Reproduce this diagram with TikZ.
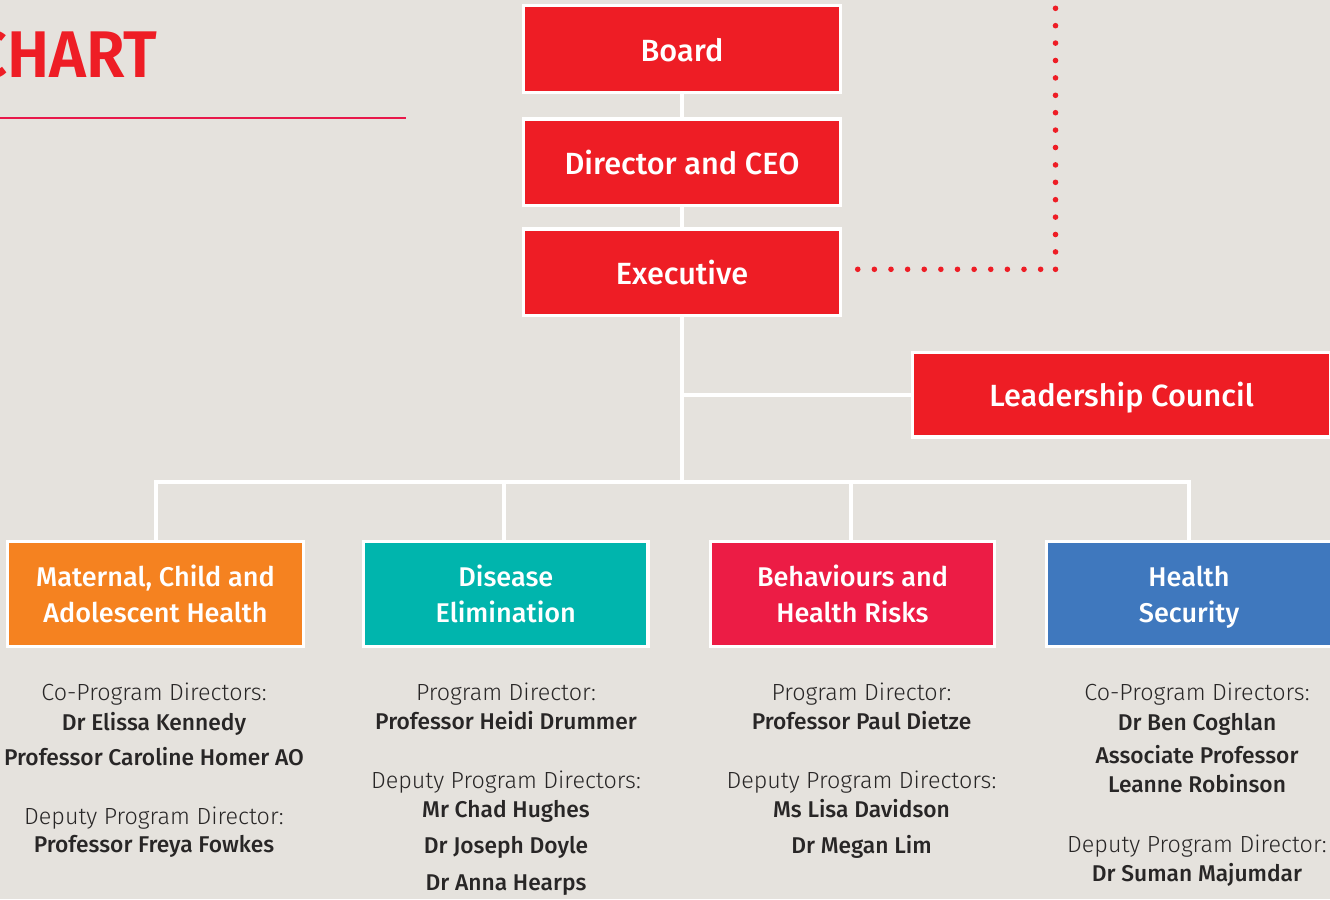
\documentclass[tikz,border=0pt]{standalone}
\usepackage{graphicx}
\usepackage{fontspec}
\setmainfont{Fira Sans}
\newfontfamily\flight{Fira Sans Light}
\newfontfamily\fmed{Fira Sans Medium}
\newfontfamily\fsemi{Fira Sans SemiBold}
\definecolor{bgc}{RGB}{229,226,221}
\definecolor{cred}{RGB}{238,29,37}
\definecolor{corange}{RGB}{245,130,32}
\definecolor{cteal}{RGB}{0,181,173}
\definecolor{cpink}{RGB}{236,28,69}
\definecolor{cblue}{RGB}{63,120,190}
\definecolor{cline}{RGB}{232,24,74}
\definecolor{tdark}{RGB}{40,38,38}
\newcommand\topstrut{\rule{0pt}{20pt}}
\begin{document}
\begin{tikzpicture}[x=0.75pt,y=-0.75pt,
  topbox/.style={draw=white, line width=2.5pt, fill=cred, text=white, minimum width=238.1pt, minimum height=65pt, inner sep=0pt, text height=18pt, text depth=0pt, font=\fmed\fontsize{23}{28}\selectfont},
  progbox/.style={draw=white, line width=2.5pt, text=white, minimum height=79pt, inner sep=0pt, align=center, font=\fmed\fontsize{20.3}{27}\selectfont},
  conn/.style={draw=white, line width=3pt},
  dotsv/.style={draw=cred, line width=4.2pt, line cap=round, dash pattern=on 0pt off 13.05pt},
  dotsh/.style={draw=cred, line width=4.2pt, line cap=round, dash pattern=on 0pt off 12.47pt},
  lab/.style={anchor=base, inner sep=0pt, text=tdark, font=\flight\fontsize{17.5}{20}\selectfont},
  nm/.style={anchor=base, inner sep=0pt, text=tdark, font=\fmed\fontsize{17.1}{20}\selectfont}
]
\useasboundingbox (0,0) rectangle (1330,899);
\clip (0,0) rectangle (1330,899);
\fill[bgc] (0,0) rectangle (1330,899);

% title
\node[anchor=base east, inner sep=0pt, text=cred, font=\fsemi\fontsize{49.5}{50}\selectfont] (title) at (157.5,77.3) {\scalebox{0.955}[1]{CHART}};
\coordinate (rule1) at (0,118);
\coordinate (rule2) at (405.7,118);
\draw[line width=2pt, draw=cline] (rule1) -- (rule2);

% top boxes
\node[topbox] (board) at (682,49) {Board};
\node[topbox] (dir) at (682,162.3) {Director and CEO};
\node[topbox] (exec) at (682,272.3) {Executive};
\node[topbox, minimum width=313.5pt, minimum height=63.5pt] (lc) at (1121.5,394.7) {Leadership Council};

% program boxes
\node[progbox, fill=corange, minimum width=221.7pt] (mch) at (155.5,594) {\topstrut Maternal, Child and\\Adolescent Health\vphantom{y}};
\node[progbox, fill=cteal, minimum width=213.3pt] (de) at (505.8,594) {\topstrut Disease\\Elimination\vphantom{y}};
\node[progbox, fill=cpink, minimum width=213.3pt] (bhr) at (852.5,594) {\topstrut Behaviours and\\Health Risks\vphantom{y}};
\node[progbox, fill=cblue, minimum width=213.3pt] (hs) at (1189,594) {\topstrut Health\\Security};

% connectors
\coordinate (bus) at (682,482.3);
\draw[conn] (board.south) -- (dir.north);
\draw[conn] (dir.south) -- (exec.north);
\draw[conn] (exec.south) -- (bus);
\draw[conn] (exec.south |- lc.west) -- (lc.west);
\draw[conn] (mch.north) |- (bus) -| (hs.north);
\draw[conn] ([xshift=-1.3pt]de.north) -- ([xshift=-1.3pt]de.north |- bus);
\draw[conn] ([xshift=-1.3pt]bhr.north) -- ([xshift=-1.3pt]bhr.north |- bus);

% dotted link
\coordinate (dtop) at (1055.5,8.3);
\coordinate (dcorner) at (1055.5,269.3);
\draw[dotsv] (dtop) -- (dcorner);
\draw[dotsh] ([xshift=11.5pt,yshift=2.25pt]exec.east) -- (dcorner);

% column 1
\node[lab] (a1) at (154,700.7) {Co-Program Directors:};
\node[nm]  (a2) at (154,730) {Dr Elissa Kennedy};
\node[nm]  (a3) at (154,765.7) {Professor Caroline Homer AO};
\node[lab] (a4) at (154,824) {Deputy Program Director:};
\node[nm]  (a5) at (154,852.7) {Professor Freya Fowkes};
% column 2
\node[lab] (b1) at (506,700.7) {Program Director:};
\node[nm]  (b2) at (506,729.3) {Professor Heidi Drummer};
\node[lab] (b3) at (506,788.3) {Deputy Program Directors:};
\node[nm]  (b4) at (506,817.3) {Mr Chad Hughes};
\node[nm]  (b5) at (506,853.3) {Dr Joseph Doyle};
\node[nm]  (b6) at (506,890) {Dr Anna Hearps};
% column 3
\node[lab] (c1) at (861.5,700.7) {Program Director:};
\node[nm]  (c2) at (861.5,729.3) {Professor Paul Dietze};
\node[lab] (c3) at (861.5,788.3) {Deputy Program Directors:};
\node[nm]  (c4) at (861.5,817.3) {Ms Lisa Davidson};
\node[nm]  (c5) at (861.5,853.3) {Dr Megan Lim};
% column 4
\node[lab] (d1) at (1197,700.7) {Co-Program Directors:};
\node[nm]  (d2) at (1197,730) {Dr Ben Coghlan};
\node[nm]  (d3) at (1197,763.3) {Associate Professor};
\node[nm]  (d4) at (1197,792.3) {Leanne Robinson};
\node[lab] (d5) at (1197,852.7) {Deputy Program Director:};
\node[nm]  (d6) at (1197,881.7) {Dr Suman Majumdar};
\end{tikzpicture}
\end{document}
